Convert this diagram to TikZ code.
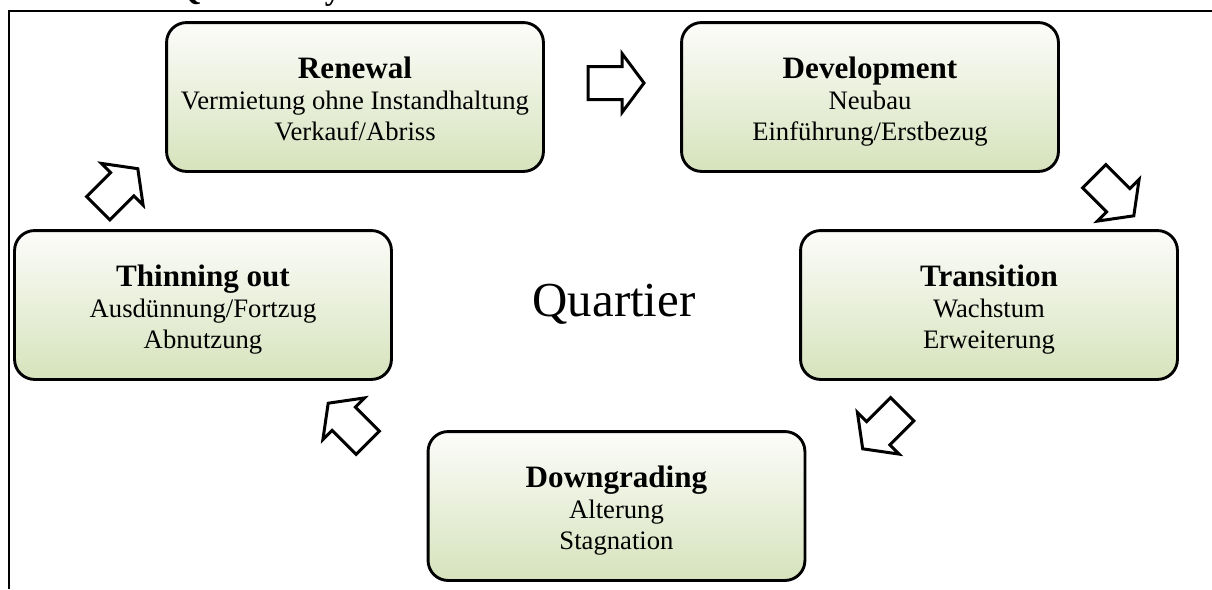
\documentclass[tikz,border=0pt]{standalone}
\usepackage{fontspec}
\setmainfont{Liberation Serif}
\definecolor{boxgreen}{RGB}{214,227,188}
\definecolor{boxtop}{RGB}{252,252,250}
\tikzset{
  stage/.style={draw=black, line width=1.3pt, rounded corners=9pt,
    minimum width=169.6pt, minimum height=67pt, inner sep=0pt,
    top color=boxtop, bottom color=boxgreen, align=center,
    text height=41pt, text depth=2pt,
    font=\fontsize{12}{14}\selectfont},
  blockarrow/.style={draw=black, line width=1.35pt, fill=white, line join=miter},
  framestyle/.style={draw=black, line width=1pt},
  pics/bigarrow/.style={code={
    \draw[blockarrow] (-28,-16.5) -- (6,-16.5) -- (6,-29.5) -- (28,0)
      -- (6,29.5) -- (6,16.5) -- (-28,16.5) -- cycle;}}
}
\newcommand{\ttl}[1]{{\fontsize{14}{14}\selectfont\bfseries #1}}
\begin{document}
\begin{tikzpicture}[x=0.45pt,y=-0.45pt]
\useasboundingbox (0,0) rectangle (1212,589);
% title above the frame, cut off by the page edge
\begin{scope}
  \clip (0,0) rectangle (1212,10);
  \node[anchor=base west, inner sep=0pt, font=\fontsize{14.5}{16}\selectfont\bfseries] (title) at (176,-1) {Quartierszyklus};
\end{scope}
% frame
\coordinate (fa) at (9,589);
\coordinate (fb) at (9,11);
\coordinate (fc) at (1212,11);
\draw[framestyle] (fa) -- (fb) -- (fc);
% stages
\node[stage] (ren) at (355,97) {\ttl{Renewal}\\Vermietung ohne Instandhaltung\\Verkauf/Abriss};
\node[stage] (dev) at (870,97) {\ttl{Development}\\Neubau\\Einführung/Erstbezug};
\node[stage] (tra) at (989,305) {\ttl{Transition}\\Wachstum\\Erweiterung};
\node[stage] (thi) at (203,305) {\ttl{Thinning out}\\Ausdünnung/Fortzug\\Abnutzung};
\node[stage] (dow) at (616.5,506) {\ttl{Downgrading}\\Alterung\\Stagnation};
% centre
\node[font=\fontsize{22}{24}\selectfont] (q) at (614,304) {Quartier};
% block arrows
\pic at (616,83) {bigarrow};
\pic[rotate=-45] at (1114,196) {bigarrow};
\pic[rotate=-135] at (882.5,429) {bigarrow};
\pic[rotate=135] at (348,423) {bigarrow};
\pic[rotate=45] at (118,188.5) {bigarrow};
\end{tikzpicture}
\end{document}
